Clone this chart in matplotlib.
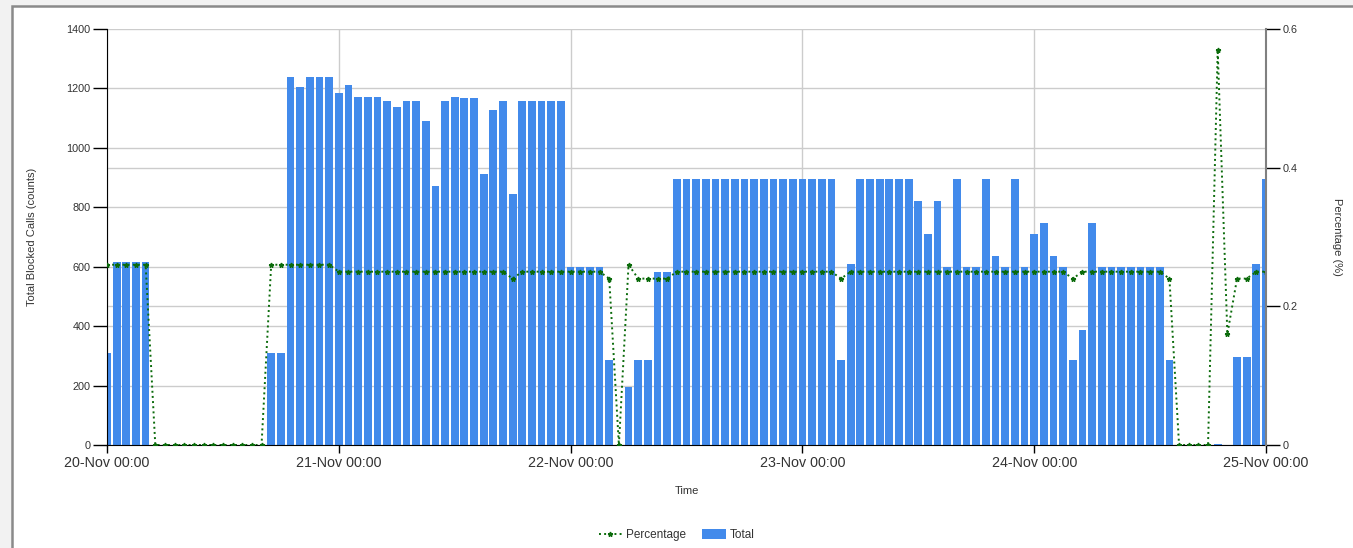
import pandas as pd
import matplotlib.pyplot as plt
import matplotlib.dates as mdates
from matplotlib.patches import Rectangle
from matplotlib.lines import Line2D
from matplotlib.patches import Patch

plt.rcParams['font.family'] = ['Liberation Sans', 'DejaVu Sans']

# hourly samples, 20-Nov 00:00 .. 25-Nov 00:00
times = pd.date_range('2023-11-20 00:00', periods=121, freq='h')

# total blocked calls per hour (one list per day, last list = 25-Nov 00:00)
total_d20 = [310, 615, 615, 615, 615, 0, 0, 0, 0, 0, 0, 0,
             0, 0, 0, 0, 0, 310, 310, 1240, 1205, 1240, 1240, 1240]
total_d21 = [1185, 1210, 1172, 1172, 1172, 1158, 1136, 1158, 1158, 1089, 871, 1158,
             1172, 1169, 1169, 912, 1127, 1158, 845, 1158, 1158, 1158, 1158, 1158]
total_d22 = [600, 600, 600, 600, 286, 0, 194, 286, 286, 582, 582, 896,
             896, 896, 896, 896, 896, 896, 896, 896, 896, 896, 896, 896]
total_d23 = [896, 896, 896, 896, 286, 609, 896, 896, 896, 896, 896, 896,
             822, 711, 822, 600, 896, 600, 600, 896, 637, 600, 896, 600]
total_d24 = [711, 748, 637, 600, 286, 386, 748, 600, 600, 600, 600, 600,
             600, 600, 286, 0, 0, 0, 0, 4, 0, 295, 295, 609]
total_d25 = [896]
total = total_d20 + total_d21 + total_d22 + total_d23 + total_d24 + total_d25

# blocked percentage per hour
pct_d20 = [0.26, 0.26, 0.26, 0.26, 0.26, 0, 0, 0, 0, 0, 0, 0,
           0, 0, 0, 0, 0, 0.26, 0.26, 0.26, 0.26, 0.26, 0.26, 0.26]
pct_d21 = [0.25, 0.25, 0.25, 0.25, 0.25, 0.25, 0.25, 0.25, 0.25, 0.25, 0.25, 0.25,
           0.25, 0.25, 0.25, 0.25, 0.25, 0.25, 0.24, 0.25, 0.25, 0.25, 0.25, 0.25]
pct_d22 = [0.25, 0.25, 0.25, 0.25, 0.24, 0, 0.26, 0.24, 0.24, 0.24, 0.24, 0.25,
           0.25, 0.25, 0.25, 0.25, 0.25, 0.25, 0.25, 0.25, 0.25, 0.25, 0.25, 0.25]
pct_d23 = [0.25, 0.25, 0.25, 0.25, 0.24, 0.25, 0.25, 0.25, 0.25, 0.25, 0.25, 0.25,
           0.25, 0.25, 0.25, 0.25, 0.25, 0.25, 0.25, 0.25, 0.25, 0.25, 0.25, 0.25]
pct_d24 = [0.25, 0.25, 0.25, 0.25, 0.24, 0.25, 0.25, 0.25, 0.25, 0.25, 0.25, 0.25,
           0.25, 0.25, 0.24, 0, 0, 0, 0, 0.57, 0.16, 0.24, 0.24, 0.25]
pct_d25 = [0.25]
pct = pct_d20 + pct_d21 + pct_d22 + pct_d23 + pct_d24 + pct_d25

bar_color = '#428AEB'
line_color = '#0B6B0B'
grid_color = '#CCCCCC'
text_color = '#333333'

fig = plt.figure(figsize=(13.53, 5.48), dpi=100, facecolor='#F2F2F2')
# outer chart frame
fig.patches.append(Rectangle((12 / 1353, -0.1), 1.2, 1 - 6 / 548 + 0.1,
                             transform=fig.transFigure, facecolor='white',
                             edgecolor='#8A8A8A', linewidth=1.8, zorder=-10))

ax1 = fig.add_axes([107 / 1353, 1 - 445 / 548, (1266 - 107) / 1353, (445 - 29) / 548])
ax2 = ax1.twinx()

ax1.bar(times, total, width=0.8 / 24, color=bar_color, zorder=2)
ax2.plot(times, pct, linestyle=':', color=line_color, linewidth=1.4,
         marker='*', markersize=3.5, markerfacecolor=line_color,
         markeredgecolor=line_color)

ax1.set_xlim(times[0], times[-1])
ax1.set_ylim(0, 1400)
ax2.set_ylim(0, 0.6)
ax1.set_yticks(range(0, 1401, 200))
ax2.set_yticks([0, 0.2, 0.4, 0.6])
ax2.set_yticklabels(['0', '0.2', '0.4', '0.6'])

ax1.xaxis.set_major_locator(mdates.DayLocator())
ax1.xaxis.set_major_formatter(mdates.DateFormatter('%d-%b %H:%M'))

# grid: left axis, right axis (drawn on ax1 so it stays behind bars), days
ax1.set_axisbelow(True)
ax1.grid(True, axis='both', color=grid_color, linewidth=1)
for t in ax2.get_yticks()[1:-1]:
    ax1.axhline(t * 1400 / 0.6, color=grid_color, linewidth=1, zorder=0)

ax1.tick_params(axis='y', length=10, width=1, pad=2, labelsize=7.8, labelcolor=text_color)
ax1.tick_params(axis='x', length=6, width=1, pad=2, labelsize=10.3, labelcolor=text_color)
ax2.tick_params(axis='y', length=10, width=1, pad=2, labelsize=7.8, labelcolor=text_color)

for s in ['top', 'right']:
    ax1.spines[s].set_visible(False)
ax2.spines['top'].set_visible(False)
ax2.spines['left'].set_visible(False)
ax2.spines['bottom'].set_visible(False)
ax2.spines['right'].set_color('#808080')
ax2.spines['right'].set_linewidth(1.5)

ax1.set_ylabel('Total Blocked Calls (counts)', fontsize=8, color=text_color)
ax1.yaxis.set_label_coords(-0.0604, 0.5)
ax2.set_ylabel('Percentage (%)', fontsize=8, color=text_color, rotation=-90)
ax2.yaxis.set_label_coords(1.066, 0.5)
ax1.set_xlabel('Time', fontsize=8, color=text_color)
ax1.xaxis.set_label_coords(0.5, -0.0986)

handles = [Line2D([0], [0], linestyle=':', color=line_color, linewidth=1.4,
                  marker='*', markersize=3.5),
           Patch(facecolor=bar_color)]
fig.legend(handles, ['Percentage', 'Total'], loc='center', ncol=2, frameon=False,
           bbox_to_anchor=(0.5, 1 - 535 / 548), fontsize=8.5,
           handlelength=2.0, handleheight=0.9, handletextpad=0.3,
           columnspacing=1.4, labelcolor=text_color)

fig.savefig('out.png', dpi=100, facecolor=fig.get_facecolor())
